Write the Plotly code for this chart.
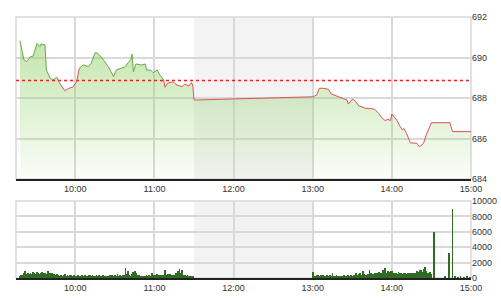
import plotly.graph_objects as go
from datetime import datetime, timedelta

DAY = "2024-01-01 "

# ---- price line (time, index value) ----
price_times = ["09:18", "09:21", "09:23", "09:26", "09:28", "09:31", "09:33", "09:34", "09:37", "09:38",
               "09:41", "09:43", "09:46", "09:48", "09:52", "09:55", "09:58", "10:01", "10:03", "10:06",
               "10:10", "10:12", "10:15", "10:17", "10:21", "10:25", "10:29", "10:31", "10:35", "10:38",
               "10:40", "10:42", "10:43", "10:44", "10:46", "10:50", "10:53", "10:54", "10:57", "10:59",
               "11:02", "11:04", "11:07", "11:08", "11:10", "11:14", "11:17", "11:21", "11:23", "11:26",
               "11:28", "11:29", "11:30",
               "13:00", "13:03", "13:05", "13:08", "13:12", "13:14", "13:18", "13:22", "13:26", "13:27",
               "13:30", "13:32", "13:35", "13:37", "13:40", "13:43", "13:47", "13:50", "13:52", "13:55",
               "13:57", "13:59", "14:00", "14:02", "14:04", "14:06", "14:08", "14:09", "14:11", "14:14",
               "14:16", "14:19", "14:21", "14:24", "14:26", "14:29", "14:30", "14:44", "14:46", "15:00"]
price_vals = [690.83, 689.88, 689.80, 690.04, 690.07, 690.70, 690.53, 690.67, 690.62, 689.38,
              688.97, 688.89, 689.02, 688.73, 688.36, 688.48, 688.53, 688.80, 689.47, 689.63,
              689.55, 689.71, 690.24, 690.21, 689.91, 689.55, 689.05, 689.38, 689.47, 689.55,
              689.74, 689.88, 690.17, 689.30, 689.68, 689.63, 689.68, 689.38, 689.38, 689.25,
              689.38, 689.14, 688.89, 688.53, 688.73, 688.80, 688.64, 688.56, 688.69, 688.59,
              688.76, 688.64, 687.90,
              688.06, 688.15, 688.48, 688.48, 688.43, 688.20, 688.10, 687.98, 687.90, 687.70,
              687.94, 687.87, 687.60, 687.57, 687.49, 687.49, 687.44, 687.24, 687.05, 686.88,
              686.95, 686.88, 687.21, 687.05, 686.88, 686.62, 686.42, 686.50, 686.26, 685.79,
              685.79, 685.76, 685.59, 685.76, 686.17, 686.67, 686.78, 686.78, 686.34, 686.34]
ref_value = 688.87

# ---- volume bars ----
vol_am_start = "09:18"   # one bar per minute
vol_am = [250, 380, 450, 600, 950, 520, 700, 480, 650, 580,
          720, 600, 540, 800, 650, 560, 700, 750, 620, 680,
          520, 870, 500, 620, 700, 450, 560, 380, 520, 400,
          300, 420, 260, 350, 480, 300, 380, 250, 330, 420,
          280, 350, 300, 250, 400, 320, 280, 360, 300, 420,
          260, 300, 380, 340, 280, 450, 320, 260, 380, 300,
          350, 280, 250, 400, 300, 260, 320, 280, 350, 300,
          380, 300, 420, 260, 550, 300, 350, 280, 450, 350,
          1300, 500, 870, 400, 300, 550, 750, 900, 600, 400,
          350, 300, 280, 320, 260, 300, 350, 280, 400, 300,
          650, 420, 380, 450, 520, 350, 400, 300, 380, 450,
          1080, 420, 500, 380, 520, 450, 400, 350, 600, 500,
          850, 1150, 700, 1000, 450, 380, 300, 350, 250, 300,
          280, 200]
vol_pm_start = "13:00"
vol_pm = [780, 300, 250, 400, 350, 280, 450, 300, 380, 250,
          320, 400, 280, 350, 300, 650, 300, 250, 380, 280,
          250, 300, 200, 280, 350, 250, 300, 380, 280, 350,
          300, 450, 350, 600, 400, 500, 700, 450, 870, 500,
          400, 350, 550, 1080, 600, 450, 500, 700, 550, 650,
          800, 600, 700, 1080, 500, 1300, 600, 870, 750, 900,
          870, 600, 700, 650, 550, 800, 700, 600, 500, 650,
          600, 550, 700, 500, 650, 600, 550, 650, 700, 900,
          750, 1000, 1100, 800, 1200, 1400, 900, 700, 600, 750,
          500]
vol_late_times = ["14:32", "14:40", "14:43", "14:46", "14:48", "14:50", "14:52", "14:55", "14:57", "14:59"]
vol_late = [6000, 200, 3200, 9000, 150, 120, 150, 100, 130, 120]

lunch_start, lunch_end = "11:30", "13:00"
x_start, x_end = "09:15", "15:00"
price_range = [684, 692]
vol_range = [0, 10000]


def ts(hm):
    return DAY + hm + ":00"


def minute_series(start, n):
    t0 = datetime.strptime(DAY + start, "%Y-%m-%d %H:%M")
    return [(t0 + timedelta(minutes=i)).strftime("%Y-%m-%d %H:%M:%S") for i in range(n)]


px = [ts(t) for t in price_times]
vx = minute_series(vol_am_start, len(vol_am)) + minute_series(vol_pm_start, len(vol_pm)) + [ts(t) for t in vol_late_times]
vy = vol_am + vol_pm + vol_late

GREEN = "#67a947"
RED = "#d95456"
GRID = "#d9d9d9"
FONT = dict(family="Liberation Sans, Arial, sans-serif", size=9, color="#333333")

fig = go.Figure()

# gradient fill under the line
fig.add_trace(go.Scatter(
    x=px, y=price_vals, mode="lines", line=dict(width=0), fill="tozeroy",
    fillgradient=dict(type="vertical", start=684, stop=691,
                      colorscale=[[0, "rgba(150,210,110,0.04)"], [1, "rgba(150,210,110,0.58)"]]),
    hoverinfo="skip", showlegend=False, xaxis="x", yaxis="y"))

# reference line
fig.add_trace(go.Scatter(
    x=[ts(x_start), ts(x_end)], y=[ref_value, ref_value], mode="lines",
    line=dict(color="#ff1a1a", width=1.5, dash="dot"), showlegend=False, xaxis="x", yaxis="y"))

# price line: red where below reference, green where above
n = len(price_vals)
below = [v < ref_value for v in price_vals]
red_vals = [v if (below[i] or (i > 0 and below[i - 1]) or (i < n - 1 and below[i + 1])) else None
            for i, v in enumerate(price_vals)]
green_vals = [v if not below[i] else None for i, v in enumerate(price_vals)]
fig.add_trace(go.Scatter(x=px, y=red_vals, mode="lines", line=dict(color=RED, width=1),
                         connectgaps=False, showlegend=False, xaxis="x", yaxis="y"))
fig.add_trace(go.Scatter(x=px, y=green_vals, mode="lines", line=dict(color=GREEN, width=1),
                         connectgaps=False, showlegend=False, xaxis="x", yaxis="y"))

# volume
fig.add_trace(go.Bar(x=vx, y=vy, marker=dict(color="#2f6b22", line=dict(width=0)),
                     width=40000, showlegend=False, xaxis="x2", yaxis="y2"))

xcommon = dict(type="date", range=[ts(x_start), ts(x_end)], tickformat="%H:%M",
               dtick=3600000, tick0=ts("10:00"), showgrid=True, gridcolor=GRID, gridwidth=1.5,
               showline=True, linecolor="#222222", linewidth=2, ticks="", tickfont=FONT,
               zeroline=False, automargin=False)
ycommon = dict(side="right", showgrid=True, gridcolor=GRID, gridwidth=1.5, ticks="",
               tickfont=FONT, zeroline=False, showline=False, automargin=False)

fig.update_layout(
    width=501, height=300, margin=dict(l=16, r=30, t=17, b=22),
    paper_bgcolor="white", plot_bgcolor="white", bargap=0,
    xaxis=dict(domain=[0, 1], anchor="y", **xcommon),
    yaxis=dict(domain=[0.3793, 1], range=price_range, dtick=2, **ycommon),
    xaxis2=dict(domain=[0, 1], anchor="y2", **xcommon),
    yaxis2=dict(domain=[0, 0.295], range=vol_range, dtick=2000, tickformat="d", **ycommon),
    shapes=[
        dict(type="rect", xref="x", yref="y domain", x0=ts(lunch_start), x1=ts(lunch_end), y0=0, y1=1,
             fillcolor="#f3f3f3", line=dict(width=0), layer="below"),
        dict(type="rect", xref="x2", yref="y2 domain", x0=ts(lunch_start), x1=ts(lunch_end), y0=0, y1=1,
             fillcolor="#f3f3f3", line=dict(width=0), layer="below"),
        dict(type="rect", xref="x domain", yref="y domain", x0=0, x1=1, y0=0, y1=1,
             line=dict(color=GRID, width=1.5), layer="below"),
        dict(type="rect", xref="x2 domain", yref="y2 domain", x0=0, x1=1, y0=0, y1=1,
             line=dict(color=GRID, width=1.5), layer="below"),
    ],
)

fig.write_html("out.html")
